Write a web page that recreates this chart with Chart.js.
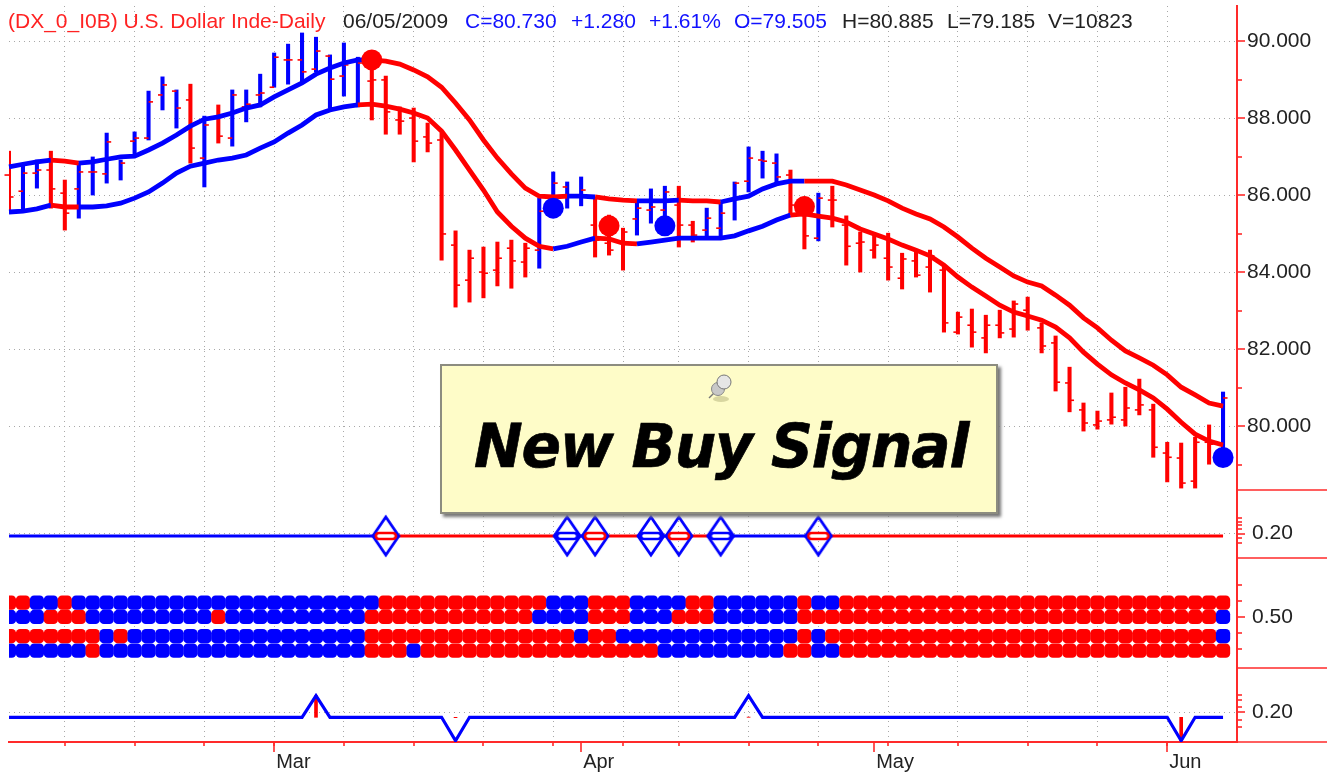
<!DOCTYPE html>
<html><head><meta charset="utf-8">
<style>
html,body{margin:0;padding:0;background:#fff;overflow:hidden}
#wrap{position:relative;width:1331px;height:776px;filter:blur(.4px)}
canvas{position:absolute;left:0;top:0}
.h{position:absolute;top:9px;font:21px "Liberation Sans",Arial,sans-serif;white-space:pre;color:#222}
.r{color:#f22}.b{color:#11f}
#note{position:absolute;left:440px;top:364px;width:554px;height:146px;background:#fefcc8;border:2px solid #8c8c80;box-shadow:3px 3px 3px #777}
#note span{position:absolute;left:32px;top:44px;font:italic bold 61px "DejaVu Sans",sans-serif;letter-spacing:-1.25px;color:#000;white-space:pre;transform:scaleX(.955);transform-origin:left center;-webkit-text-stroke:.7px #000}
#note svg{position:absolute;left:264px;top:6px}
</style></head><body>
<div id="wrap">
<canvas id="c" width="1331" height="776"></canvas>
<span class="h r" style="left:8px">(DX_0_I0B) U.S. Dollar Inde-Daily</span>
<span class="h" style="left:343px">06/05/2009</span>
<span class="h b" style="left:465px">C=80.730</span>
<span class="h b" style="left:571px">+1.280</span>
<span class="h b" style="left:649px">+1.61%</span>
<span class="h b" style="left:734px">O=79.505</span>
<span class="h" style="left:842px">H=80.885</span>
<span class="h" style="left:947px">L=79.185</span>
<span class="h" style="left:1048px">V=10823</span>
<div id="note"><svg width="30" height="30" viewBox="0 0 30 30"><ellipse cx="15" cy="27" rx="8" ry="3" fill="#d8d6a0"/><path d="M3 26 L9 20" stroke="#777" stroke-width="1.5"/><circle cx="12" cy="17" r="6.5" fill="#c8c8c8" stroke="#888"/><circle cx="18" cy="10" r="7" fill="#e6e6e6" stroke="#777"/></svg><span>New Buy Signal</span></div>
</div>
<script src="https://cdn.jsdelivr.net/npm/chart.js@4/dist/chart.umd.min.js"></script>
<script>
const categories=["02/03","02/04","02/05","02/06","02/09","02/10","02/11","02/12","02/13","02/16","02/17","02/18","02/19","02/20","02/23","02/24","02/25","02/26","02/27",
"03/02","03/03","03/04","03/05","03/06","03/09","03/10","03/11","03/12","03/13","03/16","03/17","03/18","03/19","03/20","03/23","03/24","03/25","03/26","03/27","03/30","03/31",
"04/01","04/02","04/03","04/06","04/07","04/08","04/09","04/13","04/14","04/15","04/16","04/17","04/20","04/21","04/22","04/23","04/24","04/27","04/28","04/29","04/30",
"05/01","05/04","05/05","05/06","05/07","05/08","05/11","05/12","05/13","05/14","05/15","05/18","05/19","05/20","05/21","05/22","05/25","05/26","05/27","05/28","05/29",
"06/01","06/02","06/03","06/04","06/05",""];
const weekIdx=[4,9,14,19,24,29,34,39,44,48,53,58,63,68,73,78,83];
const monthIdx=[19,41,62,83];
const monthNames=["Mar","Apr","May","Jun"];

const highs=[87.14,86.78,86.91,87.14,86.39,86.83,86.99,87.61,86.91,87.64,88.70,89.07,88.73,88.88,88.05,88.34,88.73,88.73,89.14,89.69,89.92,90.21,90.10,89.64,89.95,89.58,89.51,89.09,88.29,88.26,87.87,87.61,85.07,84.57,84.65,84.78,84.83,84.75,85.92,86.60,86.34,86.47,85.92,85.48,85.14,85.87,86.16,86.23,86.23,85.32,85.66,85.82,86.34,87.25,87.14,87.07,86.65,85.95,86.05,86.23,85.46,85.04,85.01,85.01,84.49,84.52,84.57,84.18,82.96,83.04,82.88,83.01,83.25,83.35,82.68,82.34,81.53,80.60,80.39,80.86,81.01,81.22,80.57,79.58,79.56,79.71,80.03,80.885];
const lows=[85.53,85.56,86.18,85.66,85.09,85.40,86.00,86.31,86.39,87.04,87.43,88.21,87.74,86.83,86.21,87.35,87.27,87.90,88.29,88.80,88.88,88.94,89.20,88.26,88.57,88.29,87.95,87.58,87.58,86.86,87.12,84.31,83.09,83.22,83.33,83.64,83.58,83.87,84.10,85.48,85.66,85.72,84.39,84.44,84.05,84.96,85.27,85.14,84.65,84.78,84.91,84.91,85.35,86.08,86.44,86.31,85.48,84.60,84.81,85.17,84.18,84.00,84.36,83.79,83.56,83.87,83.48,82.44,82.39,82.05,81.90,82.29,82.31,82.49,81.90,80.91,80.37,79.87,79.92,80.05,80.00,80.29,79.19,78.55,78.39,78.39,79.01,79.185];
const opens=[86.52,86.10,86.57,86.65,86.05,86.16,86.60,86.55,86.99,87.40,87.48,88.60,88.70,88.47,86.96,88.03,87.48,88.29,88.60,88.80,89.51,89.51,89.27,89.61,89.09,89.51,88.96,88.99,87.95,88.00,87.51,87.43,84.70,83.79,84.00,84.05,84.62,84.26,84.57,85.66,86.21,86.00,85.22,84.75,84.75,85.38,85.61,85.61,85.74,85.22,85.09,85.14,85.90,86.36,86.91,86.83,86.52,85.48,84.88,85.87,85.22,84.75,84.57,84.36,83.84,84.29,84.13,84.05,82.44,82.62,82.29,82.62,82.52,83.01,82.55,82.16,81.12,80.42,80.03,80.16,80.16,80.42,80.42,79.30,79.17,78.57,79.58,79.505];
const closes=[85.95,86.57,86.65,86.16,85.53,86.60,86.60,87.38,86.83,87.48,88.42,88.86,88.26,87.22,87.82,87.53,88.60,88.36,88.65,89.58,89.51,89.20,89.74,89.01,89.38,89.43,88.99,88.16,87.92,87.40,87.35,84.99,83.66,84.36,83.97,84.36,84.29,84.62,85.58,86.31,86.00,86.13,84.83,84.57,85.04,85.66,85.69,86.08,85.22,84.96,85.40,85.53,86.31,86.96,86.88,86.47,85.74,84.94,85.92,85.87,84.67,84.78,84.70,84.13,84.34,83.92,84.42,82.68,82.83,82.44,82.62,82.42,83.17,82.81,82.08,81.14,80.67,80.08,80.13,80.23,80.47,80.55,79.45,79.19,78.52,79.58,79.53,80.73];
const upperBand=[86.73,86.80,86.86,86.91,86.88,86.83,86.86,86.93,86.99,87.01,87.17,87.35,87.56,87.79,87.97,88.03,88.13,88.26,88.34,88.55,88.73,88.91,89.14,89.30,89.43,89.51,89.51,89.48,89.40,89.25,89.07,88.80,88.39,87.95,87.43,86.96,86.55,86.18,85.97,85.95,85.97,85.97,85.95,85.90,85.87,85.85,85.85,85.85,85.87,85.85,85.85,85.82,85.90,85.97,86.16,86.29,86.36,86.36,86.36,86.36,86.26,86.13,86.00,85.85,85.66,85.51,85.38,85.17,84.91,84.62,84.36,84.13,83.90,83.74,83.64,83.40,83.14,82.81,82.55,82.23,81.95,81.77,81.58,81.33,81.01,80.81,80.60,80.52];
const lowerBand=[85.56,85.58,85.64,85.74,85.69,85.69,85.69,85.72,85.79,85.92,86.08,86.31,86.57,86.75,86.83,86.91,86.96,87.04,87.22,87.38,87.61,87.82,88.08,88.21,88.29,88.34,88.36,88.31,88.23,88.13,88.00,87.66,87.17,86.65,86.13,85.56,85.19,84.88,84.67,84.60,84.67,84.78,84.88,84.86,84.75,84.73,84.78,84.83,84.88,84.88,84.88,84.88,84.94,85.07,85.19,85.35,85.48,85.51,85.45,85.40,85.30,85.12,84.99,84.86,84.70,84.57,84.42,84.18,83.87,83.61,83.38,83.14,82.96,82.86,82.75,82.57,82.29,81.92,81.61,81.33,81.12,80.94,80.73,80.44,80.10,79.79,79.61,79.51];

// Colour runs alternate red, blue, red, ... and always start with red.
const barColorRuns=[1,2,2,8,1,1,1,10,12,4,3,3,2,6,2,1,28,1];
const upperColorRuns=[0,3,2,21,14,2,3,3,3,6,31];
const lowerColorRuns=[0,3,2,20,14,3,3,11,32];
const stateLineRuns=[0,27,13,2,4,2,3,7,30];
const dotRow1Runs=[2,2,1,22,12,3,3,4,2,6,1,2,28];
const dotRow2Runs=[0,3,3,9,1,10,12,4,3,3,3,6,30,1];
const dotRow3Runs=[7,1,1,17,15,1,2,13,1,1,28,1];
const dotRow4Runs=[0,6,1,19,3,1,17,9,2,2,28];
const dotRowValues=[0.59,0.50,0.38,0.29];

const signalIdx=[26,39,43,47,57,87];
const signalVals=[89.51,85.66,85.20,85.20,85.70,79.185];
const signalCols=["R","B","R","B","R","B"];
const diamondIdx=[27,40,42,46,48,51,58];
const stateValue=0.1875;
const baseValue=0.1735;
const spikeIdx=[22,32,53,84];
const spikeVals=[0.2815,0.0565,0.2815,0.0565];
const spikeMarks=[0.2815,0.1715,0.1745,0.0565];

const mainMajor=[80,82,84,86,88,90];
const mainMinor=[79,81,83,85,87,89];
const p2Minor=[0.2775,0.2575,0.2425,0.2225,0.1775,0.1525];
const p3Minor=[0.7,0.6,0.4,0.3];
const p4Minor=[0.285,0.26,0.225,0.16,0.125];

const RED="#ff0000",BLUE="#0000ff",AXIS="#ff2a2a",GRID="#a8a8a8";
const N=highs.length;
const expand=runs=>{const o=[];runs.forEach((n,k)=>{for(let j=0;j<n;j++)o.push(k%2?BLUE:RED)});return o};
const full=v=>Array(N).fill(v);
const sparse=(idx,vals)=>{const o=Array(N).fill(null);idx.forEach((i,k)=>o[i]=vals[k]);return o};
const segCol=cols=>({borderColor:c=>cols[c.p0DataIndex]});
const noPad=s=>{s.paddingTop=0;s.paddingBottom=0;s.paddingLeft=0;s.paddingRight=0};

const mkDiamond=col=>{
  const cv=document.createElement("canvas");cv.width=32;cv.height=44;const g=cv.getContext("2d");
  g.strokeStyle=BLUE;g.lineWidth=2.8;g.beginPath();g.moveTo(16,3);g.lineTo(29,22);g.lineTo(16,41);g.lineTo(3,22);g.closePath();g.stroke();
  g.fillStyle="#fff";g.strokeStyle=col;g.lineWidth=2.6;g.beginPath();g.roundRect(6,19,20,6,3);g.fill();g.stroke();
  return cv;
};
const diamondR=mkDiamond(RED),diamondB=mkDiamond(BLUE);
const stateCols=expand(stateLineRuns);

const dotDs=(v,runs)=>({type:"line",yAxisID:"p3",data:full(v),showLine:false,clip:0,pointStyle:"rectRounded",pointRadius:8.3,pointBorderWidth:0,pointBackgroundColor:expand(runs),order:6});

const yBase={type:"linear",position:"right",stack:"panels",offset:false,
  afterFit:s=>{s.width=94;noPad(s)},
  border:{color:AXIS,width:2,dash:[1,4]},
  grid:{color:GRID,lineWidth:1,drawTicks:false}};
const tickFont={family:"'Liberation Sans',Arial,sans-serif",size:21};

const axisMarks={id:"axisMarks",afterDraw(ch){
  const g=ch.ctx,s=ch.scales,X=ch.chartArea.right;
  g.save();g.strokeStyle=AXIS;g.lineWidth=1.6;
  const tick=(sc,v,len)=>{const y=Math.round(sc.getPixelForValue(v));g.beginPath();g.moveTo(X,y);g.lineTo(X+len,y);g.stroke()};
  mainMajor.forEach(v=>tick(s.y,v,8));mainMinor.forEach(v=>tick(s.y,v,5));
  tick(s.p2,0.2,8);p2Minor.forEach(v=>tick(s.p2,v,5));
  tick(s.p3,0.5,8);p3Minor.forEach(v=>tick(s.p3,v,5));
  tick(s.p4,0.2,8);p4Minor.forEach(v=>tick(s.p4,v,5));
  [s.y,s.p2,s.p3,s.p4].forEach(sc=>{g.beginPath();g.moveTo(X,sc.bottom);g.lineTo(1327,sc.bottom);g.stroke()});
  const b=ch.chartArea.bottom;
  weekIdx.forEach(i=>{const x=Math.round(s.x.getPixelForValue(i));g.beginPath();g.moveTo(x,b);g.lineTo(x,b+4);g.stroke()});
  monthIdx.forEach(i=>{const x=Math.round(s.x.getPixelForValue(i));g.beginPath();g.moveTo(x,b);g.lineTo(x,b+10);g.stroke()});
  g.restore();
}};

new Chart(document.getElementById("c"),{
  type:"bar",
  plugins:[axisMarks],
  data:{labels:categories,datasets:[
    {type:"bar",yAxisID:"y",data:highs.map((h,i)=>[lows[i],h]),backgroundColor:expand(barColorRuns),barThickness:3.4,grouped:false,borderWidth:0,order:10},
    {type:"line",yAxisID:"y",data:opens,showLine:false,pointStyle:"dash",pointRotation:180,pointRadius:4.5,pointBorderWidth:1.6,pointBorderColor:RED,order:9},
    {type:"line",yAxisID:"y",data:closes,showLine:false,pointStyle:"dash",pointRotation:0,pointRadius:4.5,pointBorderWidth:1.6,pointBorderColor:RED,order:9},
    {type:"line",yAxisID:"y",data:upperBand,borderWidth:4.8,pointRadius:0,tension:0,segment:segCol(expand(upperColorRuns)),borderColor:BLUE,order:5},
    {type:"line",yAxisID:"y",data:lowerBand,borderWidth:4.8,pointRadius:0,tension:0,segment:segCol(expand(lowerColorRuns)),borderColor:BLUE,order:5},
    {type:"line",yAxisID:"y",data:sparse(signalIdx,signalVals),showLine:false,pointStyle:"circle",pointRadius:10.5,pointBorderWidth:0,
      pointBackgroundColor:sparse(signalIdx,signalCols.map(c=>c==="R"?RED:BLUE)),order:1},
    {type:"line",yAxisID:"p2",data:full(stateValue),borderWidth:3.2,pointRadius:0,tension:0,segment:segCol(stateCols),borderColor:BLUE,order:4},
    {type:"line",yAxisID:"p2",data:sparse(diamondIdx,diamondIdx.map(()=>stateValue)),showLine:false,pointRadius:11,pointBorderWidth:0,
      pointStyle:c=>stateCols[c.dataIndex]===RED?diamondR:diamondB,order:2},
    dotDs(dotRowValues[0],dotRow1Runs),dotDs(dotRowValues[1],dotRow2Runs),dotDs(dotRowValues[2],dotRow3Runs),dotDs(dotRowValues[3],dotRow4Runs),
    {type:"bar",yAxisID:"p4",data:sparse(spikeIdx,spikeMarks.map(v=>[baseValue,v])),backgroundColor:RED,barThickness:3,grouped:false,borderWidth:0,order:7},
    {type:"line",yAxisID:"p4",data:full(baseValue).map((v,i)=>{const k=spikeIdx.indexOf(i);return k<0?v:spikeVals[k]}),borderColor:BLUE,borderWidth:3.2,pointRadius:0,tension:0,order:4}
  ]},
  options:{responsive:false,animation:false,devicePixelRatio:1,
    layout:{autoPadding:false,padding:{left:9,top:6,right:0,bottom:0}},
    plugins:{legend:{display:false},tooltip:{enabled:false},title:{display:false}},
    events:[],
    scales:{
      x:{type:"category",offset:false,
        afterFit:s=>{s.height=34;noPad(s)},
        afterBuildTicks:s=>{s.ticks=[...new Set([...weekIdx,...monthIdx])].sort((a,b)=>a-b).map(v=>({value:v}))},
        border:{color:AXIS,width:2,dash:[1,4]},
        grid:{offset:false,drawTicks:false,color:c=>c.tick&&weekIdx.includes(c.tick.value)?GRID:"rgba(0,0,0,0)"},
        ticks:{autoSkip:false,maxRotation:0,align:"start",labelOffset:2,padding:8,color:"#222",
          font:{family:"'Liberation Sans',Arial,sans-serif",size:20},
          callback:v=>{const k=monthIdx.indexOf(v);return k<0?"":monthNames[k]}}},
      y:{...yBase,stackWeight:484,min:78.34,max:90.91,
        afterBuildTicks:s=>{s.ticks=mainMajor.map(v=>({value:v}))},
        ticks:{padding:10,color:"#222",font:tickFont,callback:v=>v.toFixed(3)}},
      p2:{...yBase,stackWeight:68,min:0.0775,max:0.4175,
        afterBuildTicks:s=>{s.ticks=[{value:0.2}]},
        ticks:{padding:15,color:"#222",font:tickFont,callback:v=>v.toFixed(2)}},
      p3:{...yBase,stackWeight:110,min:0.181,max:0.869,
        afterBuildTicks:s=>{s.ticks=[{value:0.5}]},
        grid:{...yBase.grid,color:"rgba(0,0,0,0)"},
        ticks:{padding:15,color:"#222",font:tickFont,callback:v=>v.toFixed(2)}},
      p4:{...yBase,stackWeight:74,min:0.05,max:0.42,
        afterBuildTicks:s=>{s.ticks=[{value:0.2}]},
        ticks:{padding:15,color:"#222",font:tickFont,callback:v=>v.toFixed(2)}}
    }
  }
});
</script>
</body></html>
